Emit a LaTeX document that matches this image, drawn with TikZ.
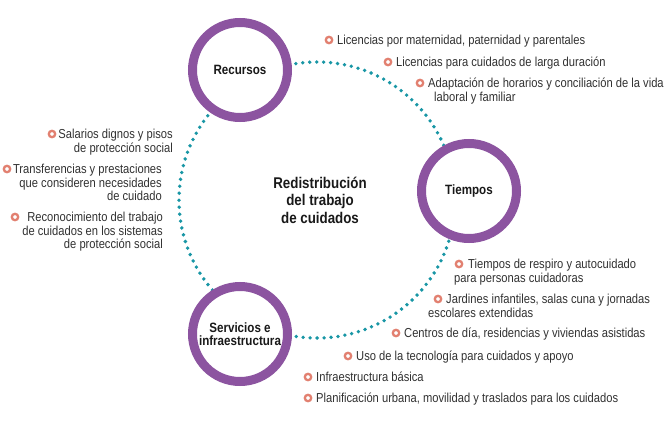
\documentclass[tikz,border=0pt]{standalone}
\usepackage{fontspec}
\setmainfont{Liberation Sans}[FakeStretch=0.86]
\definecolor{ringpurple}{RGB}{140,84,160}
\definecolor{dotteal}{RGB}{24,150,165}
\definecolor{bulletsalmon}{RGB}{226,128,112}
\definecolor{itemgray}{RGB}{50,50,50}
\definecolor{labelblack}{RGB}{25,25,25}
\tikzset{
  ring/.style={circle, draw=ringpurple, line width=9pt, fill=white, minimum size=95pt, inner sep=0pt,
    font=\bfseries\fontsize{13.5}{13}\selectfont, text=labelblack, align=center},
  centre/.style={font=\bfseries\fontsize{15.5}{17.5}\selectfont, text=labelblack, align=center, inner sep=0pt},
  dotring/.style={draw=dotteal, line width=3.8pt, line cap=round, dash pattern=on 0pt off 6.99pt},
  bullet/.style={circle, draw=bulletsalmon, line width=2.3pt, fill=white, minimum size=6.4pt, inner sep=0pt},
  item/.style={font=\fontsize{13}{14}\selectfont, text=itemgray, inner sep=0pt},
  itemL/.style={item, align=left, anchor=base west},
  itemR/.style={item, font=\fontsize{13}{13.5}\selectfont, align=right, anchor=base east}
}
\begin{document}
\begin{tikzpicture}[x=1pt,y=-1pt]
\useasboundingbox[fill=white] (0,0) rectangle (671,420);
% centre hub and dotted ring
\coordinate (hub) at (317,200);
\draw[dotring] (hub) circle (138);
\node[centre, xshift=3pt] (title) at (hub) {Redistribución\\del trabajo\\de cuidados};
% main rings
\node[ring] (rec) at (240,70) {Recursos};
\node[ring] (tie) at (469,191) {Tiempos};
\node[ring] (ser) at (240,334) {Servicios e\\infraestructura};
% top right items (Tiempos)
\node[bullet] (bt1) at (329,40) {};
\node[itemL] (t1) at (337,44.5) {Licencias por maternidad, paternidad y parentales};
\node[bullet] (bt2) at (388,62) {};
\node[itemL] (t2) at (396,66.5) {Licencias para cuidados de larga duración};
\node[bullet] (bt3) at (420,83) {};
\node[itemL] (t3) at (428,101.5) {Adaptación de horarios y conciliación de la vida\\\hspace*{6pt}laboral y familiar};
% left items (Recursos)
\node[bullet] (bl1) at (52,134) {};
\node[itemR] (l1) at (173,152) {Salarios dignos y pisos\\de protección social};
\node[bullet] (bl2) at (7,169) {};
\node[itemR] (l2) at (162,200.5) {Transferencias y prestaciones\\que consideren necesidades\\de cuidado};
\node[bullet] (bl3) at (15,217) {};
\node[itemR] (l3) at (163,248.5) {Reconocimiento del trabajo\\de cuidados en los sistemas\\de protección social};
% bottom right items (Servicios)
\node[bullet] (bb1) at (459,264) {};
\node[itemL] (b1) at (454,282.5) {\hspace*{14pt}Tiempos de respiro y autocuidado\\para personas cuidadoras};
\node[bullet] (bb2) at (438,299) {};
\node[itemL] (b2) at (428,317.5) {\hspace*{18pt}Jardines infantiles, salas cuna y jornadas\\escolares extendidas};
\node[bullet] (bb3) at (396,333) {};
\node[itemL] (b3) at (404,337.5) {Centros de día, residencias y viviendas asistidas};
\node[bullet] (bb4) at (348,356) {};
\node[itemL] (b4) at (356,360.5) {Uso de la tecnología para cuidados y apoyo};
\node[bullet] (bb5) at (308,377) {};
\node[itemL] (b5) at (316,381.5) {Infraestructura básica};
\node[bullet] (bb6) at (308,398) {};
\node[itemL] (b6) at (316,402.5) {Planificación urbana, movilidad y traslados para los cuidados};
\end{tikzpicture}
\end{document}
